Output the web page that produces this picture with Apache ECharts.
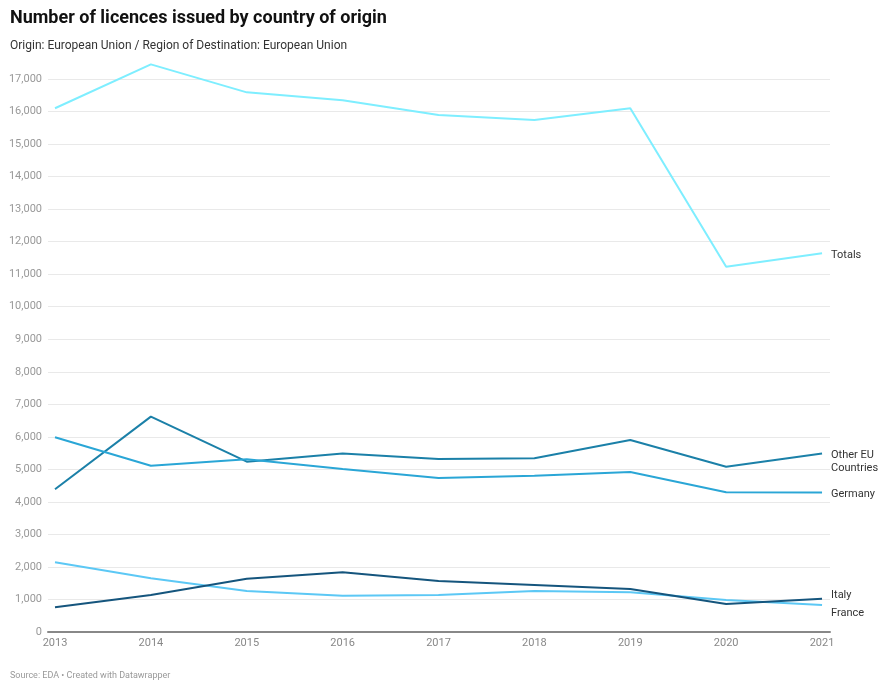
<!DOCTYPE html>
<html>
<head>
<meta charset="utf-8">
<script src="https://cdn.jsdelivr.net/npm/echarts@6/dist/echarts.min.js"></script>
<style>
  html, body { margin: 0; padding: 0; background: #fff; }
  #chart { width: 878px; height: 683px; }
</style>
</head>
<body>
<div id="chart"></div>
<script>
// Licences issued per year, EU origin / EU destination
const years = [2013, 2014, 2015, 2016, 2017, 2018, 2019, 2020, 2021];
const totals = [16100, 17450, 16590, 16350, 15890, 15740, 16100, 11230, 11640];
const otherEU = [4390, 6620, 5235, 5490, 5320, 5340, 5900, 5080, 5490];
const germany = [5985, 5110, 5310, 5010, 4735, 4805, 4920, 4295, 4290];
const italy = [760, 1140, 1640, 1835, 1570, 1445, 1320, 860, 1025];
const france = [2145, 1650, 1260, 1115, 1140, 1260, 1220, 985, 830];
const yTicks = [0, 1000, 2000, 3000, 4000, 5000, 6000, 7000, 8000, 9000, 10000,
  11000, 12000, 13000, 14000, 15000, 16000, 17000];

const FONT = 'Roboto, "Noto Sans", sans-serif';

function pairs(vals) {
  return years.map((y, i) => [y, vals[i]]);
}

function lineSeries(name, label, vals, color, offset) {
  return {
    name: name,
    type: 'line',
    data: pairs(vals),
    symbol: 'none',
    clip: false,
    lineStyle: { color: color, width: 2 },
    itemStyle: { color: color },
    emphasis: { disabled: true },
    endLabel: {
      show: true,
      formatter: label,
      color: '#333',
      fontFamily: FONT,
      fontSize: 11,
      lineHeight: 13,
      distance: 9,
      offset: offset
    }
  };
}

const chart = echarts.init(document.getElementById('chart'), null, { renderer: 'canvas' });

chart.setOption({
  backgroundColor: '#fff',
  animation: false,
  title: [
    {
      text: 'Number of licences issued by country of origin',
      left: 5, top: 4,
      textStyle: { fontFamily: FONT, fontSize: 18, fontWeight: 'bold', color: '#111' }
    },
    {
      text: 'Origin: European Union / Region of Destination: European Union',
      left: 5, top: 35,
      textStyle: { fontFamily: FONT, fontSize: 12, fontWeight: 'normal', color: '#333' }
    },
    {
      text: 'Source: EDA • Created with Datawrapper',
      left: 5, top: 666,
      textStyle: { fontFamily: FONT, fontSize: 9, fontWeight: 'normal', color: '#999' }
    }
  ],
  grid: { left: 48, right: 48, top: 79, bottom: 51, containLabel: false },
  xAxis: {
    type: 'value',
    min: 2012.927,
    max: 2021.083,
    splitLine: { show: false },
    axisLine: { show: true, lineStyle: { color: '#888', width: 2 } },
    axisTick: { show: false },
    axisLabel: {
      customValues: years,
      formatter: v => String(v),
      color: '#888',
      fontFamily: FONT,
      fontSize: 11,
      margin: 6
    }
  },
  yAxis: {
    type: 'value',
    min: 0,
    max: 17000,
    interval: 1000,
    axisLine: { show: false },
    axisTick: { show: false },
    splitLine: { lineStyle: { color: '#e9e9e9', width: 1 } },
    axisLabel: {
      color: '#999',
      fontFamily: FONT,
      fontSize: 11,
      margin: 6,
      formatter: v => yTicks.includes(v) ? v.toLocaleString('en-US') : ''
    }
  },
  series: [
    lineSeries('Totals', 'Totals', totals, '#7eeeff', [0, 2]),
    lineSeries('Other EU Countries', 'Other EU\nCountries', otherEU, '#1b80a8', [0, 8]),
    lineSeries('Germany', 'Germany', germany, '#2aa6d6', [0, 2]),
    lineSeries('France', 'France', france, '#5cc8f5', [0, 8]),
    lineSeries('Italy', 'Italy', italy, '#15557d', [0, -3])
  ]
});
</script>
</body>
</html>
